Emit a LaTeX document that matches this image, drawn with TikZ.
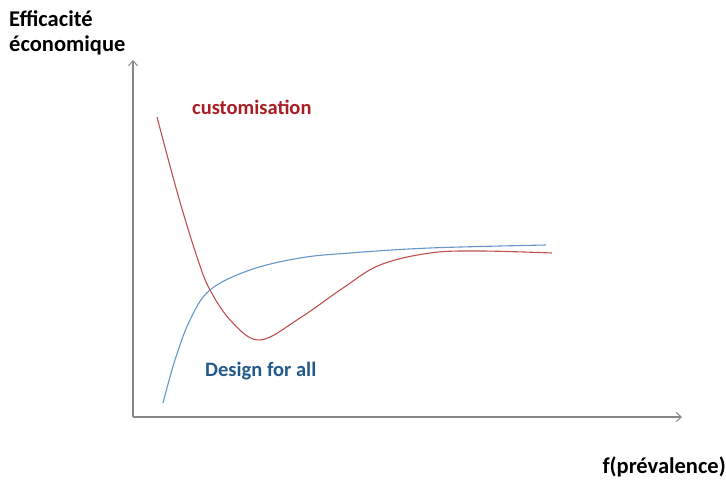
\documentclass[tikz,border=0pt]{standalone}
\usepackage{fontspec}
\setmainfont{Carlito}
\usetikzlibrary{arrows.meta}
\definecolor{axisgray}{RGB}{135,135,135}
\definecolor{curvered}{RGB}{192,80,77}
\definecolor{curveblue}{RGB}{100,150,200}
\definecolor{labred}{RGB}{170,30,35}
\definecolor{labblue}{RGB}{35,90,140}
\tikzset{
  lab/.style={font=\fontsize{20.5}{24}\selectfont\bfseries, inner sep=0pt},
  biglab/.style={font=\fontsize{22.5}{26}\selectfont\bfseries, inner sep=0pt},
  axisline/.style={draw=axisgray, line width=1.3pt, -{Straight Barb[length=5pt,width=9pt,line width=1pt]}},
  curve/.style={line width=1.1pt, smooth, tension=0.6}
}
\begin{document}
\begin{tikzpicture}[x=1pt,y=-1pt]
\useasboundingbox (0,0) rectangle (726,481);
\coordinate (O) at (133,417);
\coordinate (ytip) at (133,60);
\coordinate (xtip) at (682,417);
\draw[axisline] (O) -- (ytip);
\draw[axisline] (O) -- (xtip);
\node[biglab, anchor=base west] (eff) at (9,27) {Efficacité};
\node[biglab, anchor=base west] (eco) at (9,52) {économique};
\node[lab, anchor=base west, text=labred] (cust) at (192,115) {customisation};
\node[lab, anchor=base west, text=labblue] (dfa) at (205,376) {Design for all};
\node[biglab, anchor=base east] (fprev) at (726,473) {f(prévalence)};
\draw[curvered, curve] plot coordinates {(157,117) (178,195) (197,257) (210,290) (232,322) (260,340) (300,318) (343,288) (380,265) (430,253) (480,251) (552,253)};
\draw[curveblue, curve] plot coordinates {(163,403) (175,360) (190,320) (210,290) (250,270) (300,258) (350,253) (430,248) (546,245)};
\end{tikzpicture}
\end{document}
